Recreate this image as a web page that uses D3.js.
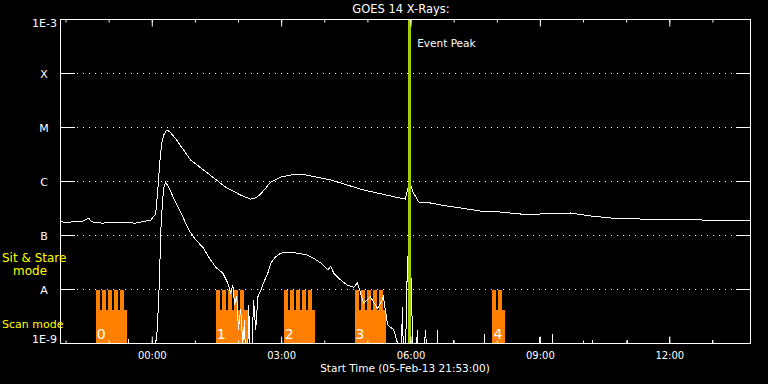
<!DOCTYPE html>
<html>

<head>
  <meta http-equiv="content-type" content="text/html; charset=utf-8">
  <title>GOES 14 X-Rays</title>
  <style>
    body { margin: 0; background: #000; }
    svg#canvas { display: block; }
    text { font-family: "DejaVu Sans", sans-serif; }
  </style>
</head>

<body>
  <svg id="canvas"></svg>

  <script src="https://d3js.org/d3.v7.min.js"></script>
  <script>

    // times are hours from 06-Feb-13 00:00 UT, flux in W/m^2 (1e-10 = below the plot)
    const long_channel = [
      [-2.12, 1.8e-7], [-1.99, 1.75e-7], [-1.6, 1.85e-7], [-1.46, 2.1e-7], [-1.40, 1.8e-7], [-1.18, 1.7e-7],
      [-0.8, 1.72e-7], [-0.37, 1.7e-7], [-0.15, 1.85e-7], [-0.02, 1.94e-7], [0.09, 2.5e-7], [0.14, 7.0e-7],
      [0.19, 2.5e-6], [0.23, 5.2e-6], [0.28, 7.3e-6], [0.35, 9.0e-6], [0.42, 8.3e-6], [0.56, 6.1e-6],
      [0.74, 3.8e-6], [0.90, 2.5e-6], [1.14, 1.78e-6], [1.44, 1.16e-6], [1.71, 7.9e-7], [2.06, 5.6e-7],
      [2.29, 4.7e-7], [2.41, 5.0e-7], [2.52, 5.8e-7], [2.62, 7.2e-7], [2.76, 9.8e-7], [2.99, 1.21e-6], [3.22, 1.32e-6],
      [3.57, 1.32e-6], [4.15, 1.07e-6], [4.91, 6.96e-7], [5.65, 5.16e-7], [5.88, 4.74e-7], [5.93, 7.0e-7],
      [5.98, 9.4e-7], [6.07, 6.1e-7], [6.19, 4.17e-7], [6.46, 4.0e-7], [6.70, 3.67e-7], [7.16, 3.23e-7],
      [7.62, 2.84e-7], [8.08, 2.72e-7], [8.55, 2.5e-7], [9.01, 2.5e-7], [9.71, 2.61e-7], [10.17, 2.3e-7],
      [10.63, 2.11e-7], [11.33, 2.02e-7], [12.02, 2.02e-7], [12.72, 1.94e-7], [13.41, 1.86e-7], [13.9, 1.86e-7]
    ];

    const short_channel = [
      [-2.12, 1e-10], [-0.55, 1e-10], [-0.53, 1.2e-9], [-0.51, 1e-10],
      [0.07, 1e-10], [0.09, 1.0e-9], [0.12, 1.6e-9], [0.16, 6.4e-9], [0.19, 3.5e-8], [0.21, 1.26e-7],
      [0.25, 4.5e-7], [0.28, 7.6e-7], [0.32, 9.8e-7], [0.39, 7.9e-7], [0.56, 4.0e-7], [0.72, 2.2e-7],
      [0.86, 1.26e-7], [1.02, 8.3e-8], [1.18, 6.1e-8], [1.32, 4.0e-8], [1.48, 2.6e-8], [1.65, 2.0e-8],
      [1.76, 1.32e-8], [1.83, 8.6e-9], [1.88, 1.2e-8], [1.92, 5.2e-9], [1.97, 7.7e-9], [2.01, 1.8e-9],
      [2.06, 4.4e-9], [2.11, 1.0e-9], [2.15, 2.7e-9], [2.20, 1e-10], [2.25, 5.2e-9], [2.29, 1e-10],
      [2.36, 6.4e-9], [2.41, 1.8e-9], [2.46, 7.3e-9], [2.53, 9.8e-9], [2.59, 1.32e-8], [2.69, 2.0e-8],
      [2.76, 3.1e-8], [2.87, 4.0e-8], [2.99, 4.7e-8], [3.17, 4.9e-8], [3.38, 4.7e-8], [3.61, 4.35e-8],
      [3.75, 3.8e-8], [3.92, 3.1e-8], [4.08, 2.3e-8], [4.15, 2.7e-8], [4.22, 2.0e-8], [4.38, 1.5e-8],
      [4.54, 1.2e-8], [4.68, 1.1e-8], [4.77, 1.32e-8], [4.84, 8.6e-9], [4.91, 5.6e-9], [5.07, 7.3e-9],
      [5.24, 4.4e-9], [5.37, 7.3e-9], [5.47, 2.2e-9], [5.61, 1.8e-9], [5.70, 1.0e-9], [5.77, 1e-10],
      [5.81, 4.7e-9], [5.86, 1e-10], [5.91, 6.4e-9], [5.93, 4.0e-8], [5.98, 3.6e-8], [6.02, 1.32e-8],
      [6.07, 1e-10], [6.16, 1.8e-9], [6.21, 1e-10], [6.35, 1.8e-9], [6.42, 1e-10],
      [6.60, 1e-10], [6.625, 1.8e-9], [6.65, 1e-10], [6.97, 1e-10], [6.995, 1.15e-9], [7.02, 1e-10],
      [7.69, 1e-10], [7.714, 1.5e-9], [7.74, 1e-10], [8.96, 1e-10], [8.988, 1.32e-9], [9.01, 1e-10],
      [9.26, 1e-10], [9.289, 1.5e-9], [9.31, 1e-10], [10.19, 1e-10], [10.215, 1.15e-9], [10.24, 1e-10],
      [11.0, 1e-10], [11.026, 1.15e-9], [11.05, 1e-10], [11.98, 1e-10], [12.0, 1.32e-9], [12.02, 1e-10],
      [12.97, 1e-10], [12.996, 1.15e-9], [13.02, 1e-10], [13.9, 1e-10]
    ];

    const level_values = [1e-3, 1e-4, 1e-5, 1e-6, 1e-7, 1e-8, 1e-9];
    const level_labels = ["1E-3", "X", "M", "C", "B", "A", "1E-9"];

    // scan mode blocks [start, end] and sit & stare intervals inside them
    const scan_blocks = [[-1.297, -0.586], [1.483, 2.224], [3.058, 3.776], [4.702, 5.420], [7.899, 8.200]];
    const block_labels = ["0", "1", "2", "3", "4"];
    const stare_intervals = [
      [-1.297, -1.204], [-1.158, -1.065], [-1.019, -0.926], [-0.880, -0.787], [-0.741, -0.648],
      [1.483, 1.576], [1.621, 1.714], [1.760, 1.853], [1.899, 1.992], [2.038, 2.131],
      [3.058, 3.151], [3.197, 3.290], [3.336, 3.429], [3.475, 3.568], [3.614, 3.707],
      [4.702, 4.795], [4.841, 4.934], [4.980, 5.073], [5.119, 5.212], [5.258, 5.351],
      [7.899, 7.992], [8.038, 8.131]
    ];
    const mode_levels = { "scan": 0.62, "stare": 1 };

    const event_peak = 5.97;
    const start_time = Date.UTC(2013, 1, 5, 21, 53);
    const end_time = Date.UTC(2013, 1, 6, 13, 53);
    const day0 = Date.UTC(2013, 1, 6);
    const t = h => new Date(day0 + h * 3600e3);

    const W = 768, H = 384;
    const svg = d3.select("svg#canvas").attr("width", W).attr("height", H)
      .style("background", "#000");

    const x = d3.scaleUtc().domain([start_time, end_time]).range([60.5, 750.5]);
    const y = d3.scaleLog().domain([1e-9, 1e-3]).range([343.5, 19.5]);
    const mode_y = d3.scaleLinear().domain([0, 1]).range([y(1e-9), y(1e-8)]);

    svg.append("defs").append("clipPath").attr("id", "plot")
      .append("rect").attr("x", 60.5).attr("y", 19.5).attr("width", 690).attr("height", 324);

    // dotted level lines and solid stubs
    const inner = level_values.slice(1, -1);
    svg.append("g").selectAll("line").data(inner).enter().append("line")
      .attr("x1", 77).attr("x2", 736).attr("y1", d => y(d)).attr("y2", d => y(d))
      .attr("stroke", "#fff").attr("stroke-dasharray", "1,5");
    [[60.5, 75], [736, 750.5]].forEach(s => {
      svg.append("g").selectAll("line").data(inner).enter().append("line")
        .attr("x1", s[0]).attr("x2", s[1]).attr("y1", d => y(d)).attr("y2", d => y(d))
        .attr("stroke", "#fff");
    });

    // instrument mode bars
    const modes = svg.append("g").attr("fill", "#ff8000").attr("shape-rendering", "crispEdges");
    modes.selectAll(".scan").data(scan_blocks).enter().append("rect")
      .attr("x", d => x(t(d[0]))).attr("width", d => x(t(d[1])) - x(t(d[0])))
      .attr("y", mode_y(mode_levels.scan)).attr("height", mode_y(0) - mode_y(mode_levels.scan));
    modes.selectAll(".stare").data(stare_intervals).enter().append("rect")
      .attr("x", d => x(t(d[0]))).attr("width", d => x(t(d[1])) - x(t(d[0])))
      .attr("y", mode_y(mode_levels.stare)).attr("height", mode_y(0) - mode_y(mode_levels.stare));
    svg.append("g").selectAll("text").data(scan_blocks).enter().append("text")
      .attr("x", d => x(t(d[0])) + 1).attr("y", 338.5)
      .attr("fill", "#fff").attr("font-size", 14).text((d, i) => block_labels[i]);

    // light curves
    const line = d3.line().x(d => x(t(d[0]))).y(d => y(d[1]));
    const curves = svg.append("g").attr("clip-path", "url(#plot)");
    [short_channel, long_channel].forEach(s => {
      curves.append("path").datum(s).attr("d", line)
        .attr("fill", "none").attr("stroke", "#fff").attr("stroke-width", 1)
        .attr("shape-rendering", "crispEdges");
    });

    // event peak
    svg.append("line")
      .attr("x1", x(t(event_peak))).attr("x2", x(t(event_peak)))
      .attr("y1", 19.5).attr("y2", 343.5)
      .attr("stroke", "#a0d000").attr("stroke-width", 3).attr("shape-rendering", "crispEdges");
    svg.append("text").attr("x", x(t(event_peak)) + 8).attr("y", 47)
      .attr("fill", "#fff").attr("font-size", 10.5).text("Event Peak");

    // time axes, ticks pointing inward
    const hours = d3.utcHour.every(1), three = d3.utcHour.every(3);
    const axis = (g, a) => g.call(a).attr("color", "#fff").call(g => g.select(".domain").remove());
    svg.append("g").attr("transform", "translate(0,343.5)")
      .call(g => axis(g, d3.axisBottom(x).ticks(hours).tickSize(-3).tickFormat("")));
    svg.append("g").attr("transform", "translate(0,343.5)")
      .call(g => axis(g, d3.axisBottom(x).ticks(three).tickSize(-7).tickPadding(8).tickFormat(d3.utcFormat("%H:%M"))))
      .selectAll("text").attr("font-size", 10).attr("font-family", "DejaVu Sans");
    svg.append("g").attr("transform", "translate(0,19.5)")
      .call(g => axis(g, d3.axisTop(x).ticks(hours).tickSize(-3).tickFormat("")));
    svg.append("g").attr("transform", "translate(0,19.5)")
      .call(g => axis(g, d3.axisTop(x).ticks(three).tickSize(-7).tickFormat("")));

    svg.append("rect").attr("x", 60.5).attr("y", 19.5).attr("width", 690).attr("height", 324)
      .attr("fill", "none").attr("stroke", "#fff");

    // level labels
    svg.append("g").selectAll("text").data(level_values).enter().append("text")
      .attr("x", (d, i) => i == 0 || i == 6 ? 57 : 44)
      .attr("y", (d, i) => i == 0 ? 27 : (i == 6 ? 343 : y(d) + 4.5))
      .attr("text-anchor", (d, i) => i == 0 || i == 6 ? "end" : "middle")
      .attr("fill", "#fff").attr("font-size", 11).text((d, i) => level_labels[i]);

    svg.append("text").attr("x", 2).attr("y", 262).attr("fill", "#ffff00").attr("font-size", 12)
      .attr("font-family", "Liberation Sans").text("Sit & Stare");
    svg.append("text").attr("x", 13).attr("y", 275).attr("fill", "#ffff00").attr("font-size", 12)
      .attr("font-family", "Liberation Sans").text("mode");
    svg.append("text").attr("x", 2).attr("y", 328).attr("fill", "#ffff00").attr("font-size", 11)
      .attr("font-family", "Liberation Sans").text("Scan mode");

    svg.append("text").attr("x", 401).attr("y", 13).attr("text-anchor", "middle")
      .attr("fill", "#fff").attr("font-size", 11.5).text("GOES 14 X-Rays:");
    svg.append("text").attr("x", 405).attr("y", 372).attr("text-anchor", "middle")
      .attr("fill", "#fff").attr("font-size", 10.5).text("Start Time (05-Feb-13 21:53:00)");

  </script>
</body>

</html>
